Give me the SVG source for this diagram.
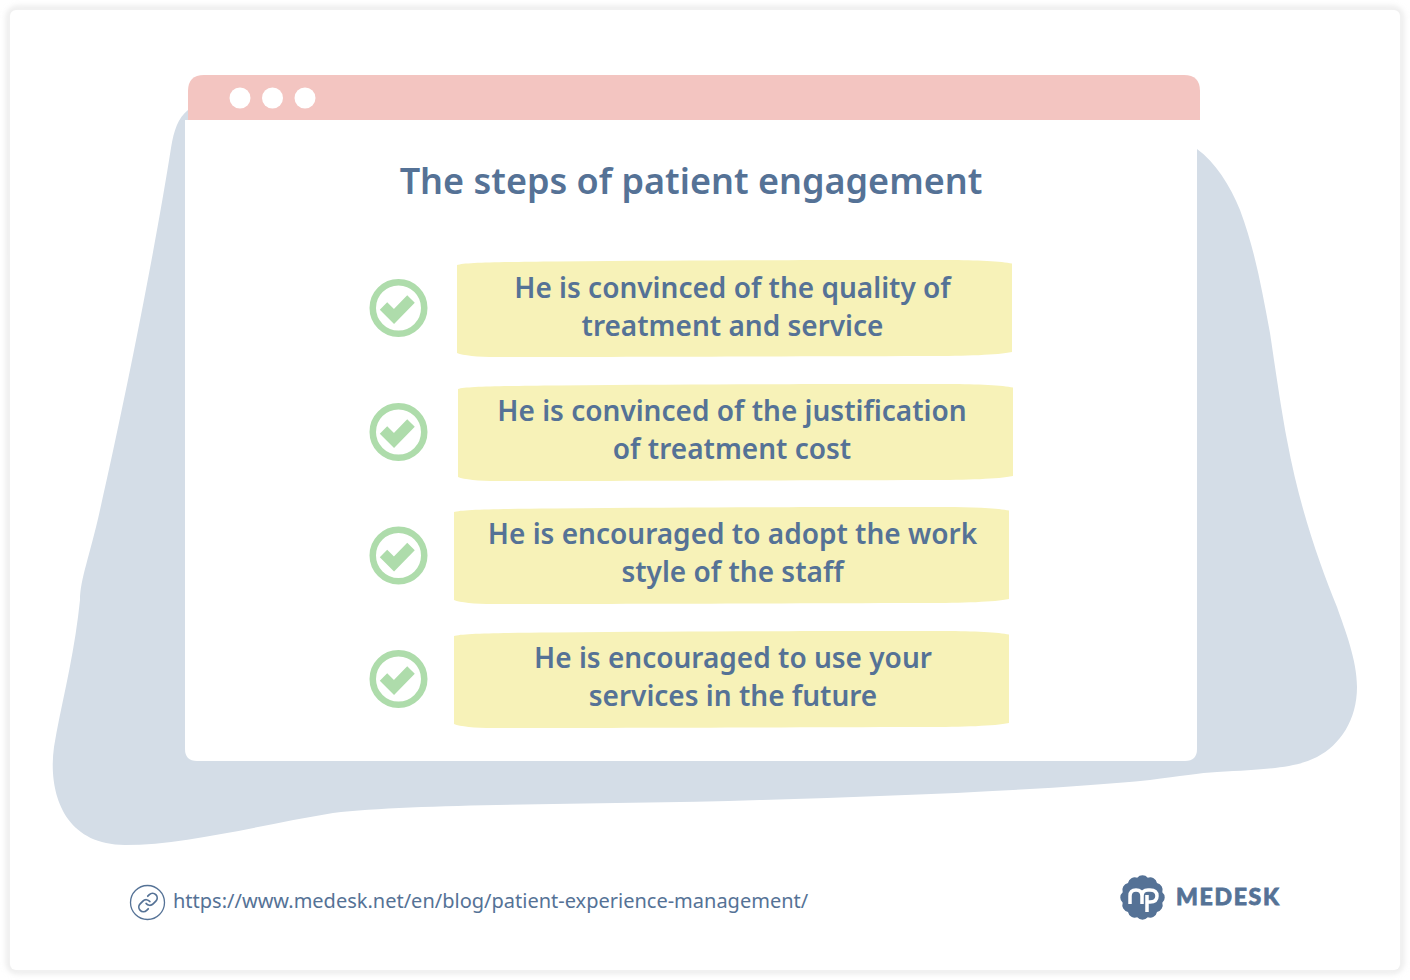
<svg xmlns="http://www.w3.org/2000/svg" width="1410" height="980" viewBox="0 0 1410 980">
<defs>
<filter id="sh" x="-2%" y="-2%" width="104%" height="104%"><feGaussianBlur stdDeviation="3"/></filter>
<g id="chk"><circle cx="0" cy="0" r="25.750" fill="none" stroke="#aedcab" stroke-width="6.500"/><path fill="none" stroke="#aedcab" stroke-width="10.500" d="M-15 -2L-4.500 8.500L12.500 -9"/></g>
<path id="box" class="b" d="M0 5C8 2.500 40 2 100 1.500C250 0 400 0 490 0C520 0 545 1.500 555 3.500V92C540 95 510 96 470 96C300 96.500 150 97 40 97C20 97 6 95.500 0 93Z"/>
</defs>
<style>
.t{font-family:"Noto Sans","Open Sans",sans-serif;font-weight:600;font-size:28px;fill:#557296;text-anchor:middle}
.b{fill:#f7f2b8}
</style>
<rect width="1410" height="980" fill="#fff"/>
<rect x="9" y="9" width="1392" height="962" rx="8" fill="#fff" stroke="#d4d4d4" stroke-width="3" filter="url(#sh)"/>
<rect x="10" y="10" width="1390" height="960" rx="6" fill="#fff"/>
<path id="blob" fill="#d4dde7" d="M188 110C178 118 174 130 171 148C155 250 125 400 100 510C90 555 80 580 80 600L78 617C72 665 60 710 54 747C48 790 62 845 125 845C185 845 260 825 333 813C420 803 600 805 760 800C900 796 1050 790 1150 780C1180 776 1200 773 1217 772C1270 769 1295 768 1317 757C1340 745 1357 720 1357 687C1357 660 1345 630 1337 607C1320 565 1300 510 1287 440C1278 390 1272 345 1270 333C1262 290 1255 250 1240 210C1230 185 1215 162 1197 149L1197 110Z"/>
<g id="window">
<path fill="#f3c5c1" d="M188 120V91Q188 75 204 75H1184Q1200 75 1200 91V120Z"/>
<path fill="#fff" d="M185 120H1197V749Q1197 761 1185 761H197Q185 761 185 749Z"/>
<circle cx="240" cy="98" r="10.500" fill="#fff"/><circle cx="272.500" cy="98" r="10.500" fill="#fff"/><circle cx="305" cy="98" r="10.500" fill="#fff"/>
</g>
<text id="title" x="691" y="193.500" font-family="Noto Sans, Open Sans, sans-serif" font-weight="600" font-size="36" fill="#557296" text-anchor="middle">The steps of patient engagement</text>
<g id="connectors"/>
<g id="step1"><use href="#chk" x="398.500" y="308"/>
<use href="#box" x="457" y="260"/>
<text class="t" x="732.500" y="298">He is convinced of the quality of</text><text class="t" x="732.500" y="336">treatment and service</text></g>
<g id="step2"><use href="#chk" x="398.500" y="432"/>
<use href="#box" x="458" y="384"/>
<text class="t" x="732" y="421">He is convinced of the justification</text><text class="t" x="732" y="459">of treatment cost</text></g>
<g id="step3"><use href="#chk" x="398.500" y="555.500"/>
<use href="#box" x="454" y="507"/>
<text class="t" x="732.500" y="544">He is encouraged to adopt the work</text><text class="t" x="732.500" y="582">style of the staff</text></g>
<g id="step4"><use href="#chk" x="398.500" y="679"/>
<use href="#box" x="454" y="631"/>
<text class="t" x="733" y="668">He is encouraged to use your</text><text class="t" x="733" y="706">services in the future</text></g>
<g id="link">
<circle cx="147.500" cy="902.500" r="17" fill="#fff" stroke="#557296" stroke-width="1.300"/>
<g transform="translate(148 902.500) scale(.92) translate(-12 -12)" fill="none" stroke="#557296" stroke-width="1.900" stroke-linecap="round">
<path d="M10 13a5 5 0 0 0 7.540.540l3-3a5 5 0 0 0-7.070-7.070l-1.720 1.710"/>
<path d="M14 11a5 5 0 0 0-7.540-.540l-3 3a5 5 0 0 0 7.070 7.070l1.710-1.710"/>
</g>
<text x="173" y="908" font-family="Noto Sans, Open Sans, sans-serif" font-size="20" fill="#557296">https://www.medesk.net/en/blog/patient-experience-management/</text>
</g>
<g id="logo">
<path fill="#557296" d="M1162.300 902.800A7 7 0 0 1 1157 912A7 7 0 0 1 1147.800 917.300A7 7 0 0 1 1137.200 917.300A7 7 0 0 1 1128 912A7 7 0 0 1 1122.700 902.800A7 7 0 0 1 1122.700 892.200A7 7 0 0 1 1128 883A7 7 0 0 1 1137.200 877.700A7 7 0 0 1 1147.800 877.700A7 7 0 0 1 1157 883A7 7 0 0 1 1162.300 892.200A7 7 0 0 1 1162.300 902.800Z"/>
<path fill="none" stroke="#fff" stroke-width="3.500" d="M1130 904V896Q1130 890 1136 890Q1142 890 1142 896V904M1142 896Q1142 890 1148 890H1150Q1157 890 1157 896Q1157 902 1150 902H1147M1147 895V912"/>
<text x="1176" y="904.500" font-family="Lato, Noto Sans, sans-serif" font-weight="900" font-size="23" textLength="103" lengthAdjust="spacing" fill="#557296" stroke="#557296" stroke-width="0.800">MEDESK</text>
</g>
</svg>
